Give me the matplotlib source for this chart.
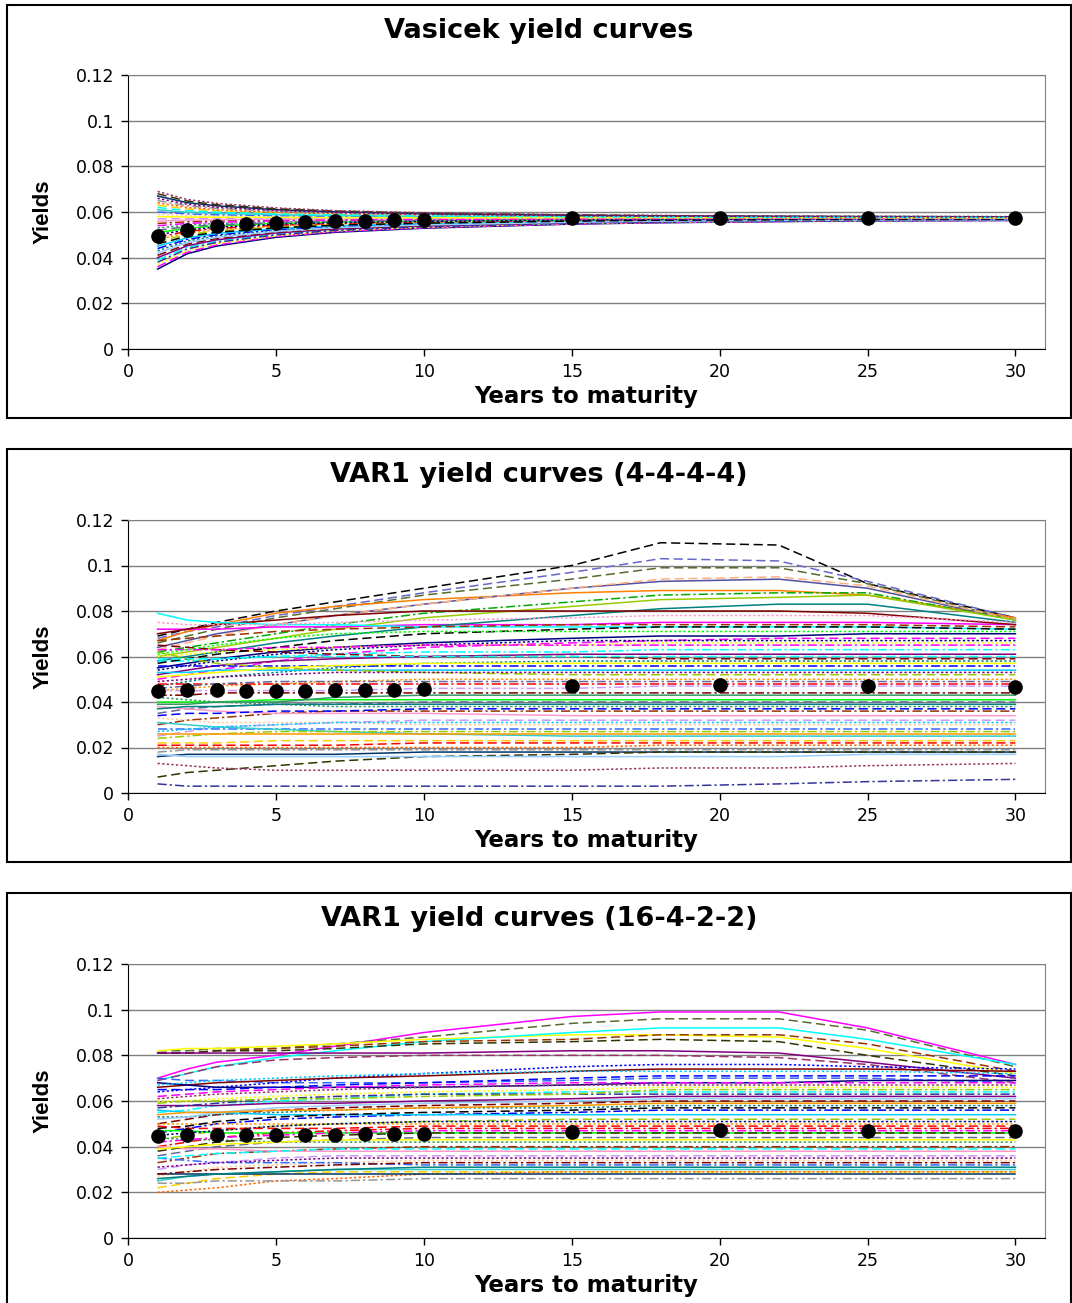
import matplotlib
matplotlib.use("Agg")
import matplotlib.pyplot as plt
from matplotlib.patches import Rectangle
from itertools import cycle

mats = [1, 2, 3, 5, 7, 10, 15, 18, 22, 25, 30]
dot_mats = [1, 2, 3, 4, 5, 6, 7, 8, 9, 10, 15, 20, 25, 30]

titles = ["Vasicek yield curves", "VAR1 yield curves (4-4-4-4)", "VAR1 yield curves (16-4-2-2)"]
yticks = [0, 0.02, 0.04, 0.06, 0.08, 0.1, 0.12]
ytick_labels = ["0", "0.02", "0.04", "0.06", "0.08", "0.1", "0.12"]
xticks = [0, 5, 10, 15, 20, 25, 30]

#---------------------------------------------------------------------------------------
# Vasicek curves
vasicek_curves = [
    [0.035, 0.0417, 0.0451, 0.0489, 0.0511, 0.0529, 0.0547, 0.0553, 0.0558, 0.0561, 0.0563],
    [0.036, 0.0424, 0.0456, 0.0493, 0.0514, 0.0531, 0.0548, 0.0554, 0.0559, 0.0561, 0.0563],
    [0.037, 0.0431, 0.0462, 0.0496, 0.0517, 0.0533, 0.0550, 0.0555, 0.0560, 0.0562, 0.0564],
    [0.039, 0.0445, 0.0473, 0.0504, 0.0522, 0.0537, 0.0552, 0.0557, 0.0561, 0.0563, 0.0565],
    [0.040, 0.0452, 0.0478, 0.0508, 0.0525, 0.0539, 0.0553, 0.0558, 0.0562, 0.0564, 0.0565],
    [0.041, 0.0459, 0.0484, 0.0512, 0.0528, 0.0541, 0.0554, 0.0559, 0.0563, 0.0564, 0.0566],
    [0.043, 0.0473, 0.0495, 0.0519, 0.0534, 0.0545, 0.0557, 0.0561, 0.0564, 0.0565, 0.0567],
    [0.044, 0.0480, 0.0500, 0.0523, 0.0536, 0.0547, 0.0558, 0.0562, 0.0565, 0.0566, 0.0567],
    [0.045, 0.0487, 0.0506, 0.0527, 0.0539, 0.0549, 0.0559, 0.0563, 0.0566, 0.0567, 0.0568],
    [0.047, 0.0501, 0.0517, 0.0534, 0.0545, 0.0553, 0.0562, 0.0565, 0.0567, 0.0568, 0.0569],
    [0.048, 0.0508, 0.0522, 0.0538, 0.0548, 0.0555, 0.0563, 0.0565, 0.0567, 0.0568, 0.0569],
    [0.049, 0.0515, 0.0528, 0.0542, 0.0550, 0.0557, 0.0564, 0.0566, 0.0568, 0.0569, 0.0570],
    [0.051, 0.0529, 0.0539, 0.0550, 0.0556, 0.0561, 0.0566, 0.0568, 0.0570, 0.0570, 0.0571],
    [0.052, 0.0536, 0.0544, 0.0553, 0.0559, 0.0563, 0.0568, 0.0569, 0.0570, 0.0571, 0.0571],
    [0.053, 0.0543, 0.0550, 0.0557, 0.0562, 0.0565, 0.0569, 0.0570, 0.0571, 0.0571, 0.0572],
    [0.055, 0.0557, 0.0561, 0.0565, 0.0567, 0.0569, 0.0571, 0.0572, 0.0572, 0.0573, 0.0573],
    [0.056, 0.0564, 0.0566, 0.0569, 0.0570, 0.0571, 0.0572, 0.0573, 0.0573, 0.0573, 0.0573],
    [0.057, 0.0571, 0.0572, 0.0572, 0.0573, 0.0573, 0.0574, 0.0574, 0.0574, 0.0574, 0.0574],
    [0.059, 0.0585, 0.0583, 0.0580, 0.0578, 0.0577, 0.0576, 0.0575, 0.0575, 0.0575, 0.0575],
    [0.060, 0.0592, 0.0588, 0.0584, 0.0581, 0.0579, 0.0577, 0.0576, 0.0576, 0.0576, 0.0575],
    [0.061, 0.0599, 0.0594, 0.0588, 0.0584, 0.0581, 0.0578, 0.0577, 0.0576, 0.0576, 0.0576],
    [0.063, 0.0613, 0.0605, 0.0595, 0.0590, 0.0585, 0.0581, 0.0579, 0.0578, 0.0577, 0.0577],
    [0.064, 0.0620, 0.0610, 0.0599, 0.0592, 0.0587, 0.0582, 0.0580, 0.0578, 0.0578, 0.0577],
    [0.065, 0.0627, 0.0616, 0.0603, 0.0595, 0.0589, 0.0583, 0.0581, 0.0579, 0.0579, 0.0578],
    [0.067, 0.0641, 0.0627, 0.0610, 0.0601, 0.0593, 0.0586, 0.0583, 0.0581, 0.0580, 0.0579],
    [0.068, 0.0648, 0.0632, 0.0614, 0.0604, 0.0595, 0.0587, 0.0584, 0.0581, 0.0580, 0.0579],
    [0.069, 0.0655, 0.0638, 0.0618, 0.0606, 0.0597, 0.0588, 0.0585, 0.0582, 0.0581, 0.0580],
    [0.038, 0.0438, 0.0467, 0.0500, 0.0519, 0.0535, 0.0551, 0.0556, 0.0560, 0.0562, 0.0564],
    [0.042, 0.0466, 0.0489, 0.0515, 0.0531, 0.0543, 0.0555, 0.0560, 0.0563, 0.0565, 0.0566],
    [0.046, 0.0494, 0.0511, 0.0530, 0.0542, 0.0551, 0.0560, 0.0564, 0.0566, 0.0567, 0.0568],
    [0.050, 0.0522, 0.0533, 0.0546, 0.0553, 0.0559, 0.0565, 0.0567, 0.0569, 0.0570, 0.0570],
    [0.054, 0.0550, 0.0555, 0.0561, 0.0564, 0.0567, 0.0570, 0.0571, 0.0572, 0.0572, 0.0572],
    [0.058, 0.0578, 0.0577, 0.0576, 0.0575, 0.0575, 0.0575, 0.0575, 0.0575, 0.0575, 0.0574],
    [0.062, 0.0606, 0.0599, 0.0591, 0.0587, 0.0583, 0.0579, 0.0578, 0.0577, 0.0577, 0.0576],
    [0.066, 0.0634, 0.0621, 0.0607, 0.0598, 0.0591, 0.0584, 0.0582, 0.0580, 0.0579, 0.0578],
]
vasicek_dots = [0.0496, 0.0522, 0.0539, 0.0548, 0.0552, 0.0556, 0.0559, 0.0561, 0.0563, 0.0565,
                0.0572, 0.0574, 0.0574, 0.0574]

# VAR1 (4-4-4-4) curves
var_a_curves = [
    [0.069, 0.072, 0.075, 0.080, 0.084, 0.090, 0.100, 0.110, 0.109, 0.092, 0.077],
    [0.068, 0.071, 0.073, 0.078, 0.082, 0.088, 0.097, 0.103, 0.102, 0.093, 0.077],
    [0.066, 0.069, 0.072, 0.077, 0.081, 0.087, 0.094, 0.099, 0.099, 0.092, 0.076],
    [0.067, 0.071, 0.074, 0.079, 0.082, 0.085, 0.088, 0.089, 0.089, 0.087, 0.077],
    [0.064, 0.067, 0.070, 0.074, 0.078, 0.083, 0.090, 0.093, 0.094, 0.090, 0.076],
    [0.062, 0.064, 0.066, 0.070, 0.074, 0.079, 0.084, 0.087, 0.088, 0.088, 0.076],
    [0.063, 0.066, 0.069, 0.074, 0.078, 0.083, 0.090, 0.094, 0.095, 0.091, 0.076],
    [0.060, 0.062, 0.064, 0.068, 0.072, 0.077, 0.082, 0.085, 0.086, 0.087, 0.076],
    [0.072, 0.072, 0.072, 0.073, 0.073, 0.074, 0.074, 0.075, 0.075, 0.075, 0.074],
    [0.058, 0.060, 0.062, 0.066, 0.069, 0.073, 0.078, 0.081, 0.083, 0.083, 0.075],
    [0.070, 0.072, 0.074, 0.076, 0.078, 0.080, 0.080, 0.080, 0.080, 0.079, 0.074],
    [0.079, 0.076, 0.075, 0.074, 0.074, 0.073, 0.073, 0.073, 0.073, 0.073, 0.072],
    [0.055, 0.057, 0.059, 0.062, 0.064, 0.066, 0.068, 0.069, 0.069, 0.070, 0.070],
    [0.050, 0.052, 0.054, 0.058, 0.061, 0.064, 0.066, 0.067, 0.068, 0.068, 0.068],
    [0.060, 0.061, 0.062, 0.063, 0.064, 0.065, 0.065, 0.066, 0.066, 0.066, 0.066],
    [0.058, 0.058, 0.059, 0.060, 0.061, 0.062, 0.062, 0.063, 0.063, 0.063, 0.063],
    [0.052, 0.054, 0.056, 0.058, 0.059, 0.060, 0.061, 0.061, 0.061, 0.061, 0.061],
    [0.065, 0.064, 0.063, 0.062, 0.061, 0.060, 0.060, 0.059, 0.059, 0.059, 0.059],
    [0.047, 0.049, 0.051, 0.053, 0.055, 0.057, 0.058, 0.058, 0.058, 0.058, 0.058],
    [0.056, 0.056, 0.056, 0.056, 0.056, 0.056, 0.056, 0.056, 0.056, 0.056, 0.056],
    [0.053, 0.053, 0.054, 0.054, 0.054, 0.054, 0.054, 0.054, 0.054, 0.054, 0.054],
    [0.062, 0.059, 0.057, 0.055, 0.054, 0.053, 0.052, 0.052, 0.052, 0.052, 0.052],
    [0.045, 0.046, 0.047, 0.048, 0.049, 0.050, 0.050, 0.050, 0.050, 0.050, 0.050],
    [0.048, 0.048, 0.048, 0.048, 0.048, 0.048, 0.048, 0.048, 0.048, 0.048, 0.048],
    [0.040, 0.040, 0.040, 0.041, 0.041, 0.041, 0.041, 0.041, 0.041, 0.041, 0.041],
    [0.035, 0.037, 0.038, 0.039, 0.039, 0.040, 0.040, 0.040, 0.040, 0.040, 0.040],
    [0.042, 0.041, 0.040, 0.039, 0.038, 0.038, 0.038, 0.038, 0.038, 0.038, 0.038],
    [0.030, 0.032, 0.033, 0.035, 0.036, 0.036, 0.036, 0.036, 0.036, 0.036, 0.036],
    [0.038, 0.037, 0.036, 0.035, 0.035, 0.035, 0.034, 0.034, 0.034, 0.034, 0.034],
    [0.025, 0.027, 0.029, 0.030, 0.031, 0.032, 0.032, 0.032, 0.032, 0.032, 0.032],
    [0.033, 0.032, 0.031, 0.031, 0.031, 0.030, 0.030, 0.030, 0.030, 0.030, 0.030],
    [0.028, 0.028, 0.028, 0.028, 0.028, 0.028, 0.028, 0.028, 0.028, 0.028, 0.028],
    [0.031, 0.030, 0.029, 0.028, 0.027, 0.026, 0.025, 0.025, 0.025, 0.025, 0.025],
    [0.022, 0.022, 0.022, 0.023, 0.023, 0.023, 0.023, 0.023, 0.023, 0.023, 0.023],
    [0.020, 0.020, 0.020, 0.020, 0.020, 0.020, 0.020, 0.021, 0.021, 0.021, 0.021],
    [0.018, 0.019, 0.019, 0.019, 0.019, 0.019, 0.019, 0.019, 0.019, 0.019, 0.019],
    [0.016, 0.017, 0.017, 0.017, 0.017, 0.018, 0.018, 0.018, 0.018, 0.018, 0.018],
    [0.007, 0.009, 0.010, 0.012, 0.014, 0.016, 0.017, 0.018, 0.018, 0.018, 0.018],
    [0.013, 0.012, 0.011, 0.010, 0.010, 0.010, 0.010, 0.011, 0.011, 0.012, 0.013],
    [0.004, 0.003, 0.003, 0.003, 0.003, 0.003, 0.003, 0.003, 0.004, 0.005, 0.006],
    [0.017, 0.016, 0.016, 0.016, 0.016, 0.016, 0.016, 0.016, 0.016, 0.017, 0.017],
    [0.057, 0.059, 0.061, 0.064, 0.067, 0.070, 0.072, 0.073, 0.073, 0.073, 0.072],
    [0.054, 0.056, 0.058, 0.061, 0.063, 0.065, 0.067, 0.067, 0.067, 0.067, 0.067],
    [0.063, 0.063, 0.063, 0.064, 0.064, 0.065, 0.065, 0.065, 0.065, 0.065, 0.065],
    [0.051, 0.052, 0.053, 0.055, 0.056, 0.057, 0.057, 0.057, 0.057, 0.057, 0.057],
    [0.059, 0.059, 0.059, 0.060, 0.060, 0.060, 0.060, 0.060, 0.060, 0.060, 0.060],
    [0.049, 0.050, 0.051, 0.052, 0.053, 0.053, 0.053, 0.053, 0.053, 0.053, 0.053],
    [0.043, 0.043, 0.044, 0.044, 0.044, 0.044, 0.044, 0.044, 0.044, 0.044, 0.044],
    [0.037, 0.038, 0.038, 0.039, 0.039, 0.039, 0.039, 0.039, 0.039, 0.039, 0.039],
    [0.034, 0.035, 0.035, 0.036, 0.036, 0.037, 0.037, 0.037, 0.037, 0.037, 0.037],
    [0.027, 0.028, 0.029, 0.030, 0.031, 0.031, 0.031, 0.031, 0.031, 0.031, 0.031],
    [0.024, 0.025, 0.026, 0.027, 0.027, 0.027, 0.027, 0.027, 0.027, 0.027, 0.027],
    [0.026, 0.026, 0.026, 0.026, 0.026, 0.026, 0.026, 0.026, 0.026, 0.026, 0.026],
    [0.021, 0.021, 0.021, 0.021, 0.021, 0.022, 0.022, 0.022, 0.022, 0.022, 0.022],
    [0.061, 0.063, 0.065, 0.068, 0.070, 0.071, 0.071, 0.071, 0.071, 0.071, 0.071],
    [0.046, 0.047, 0.048, 0.049, 0.049, 0.049, 0.049, 0.049, 0.049, 0.049, 0.049],
    [0.039, 0.039, 0.040, 0.040, 0.042, 0.043, 0.043, 0.043, 0.043, 0.043, 0.043],
    [0.067, 0.068, 0.069, 0.071, 0.072, 0.073, 0.074, 0.074, 0.074, 0.074, 0.073],
    [0.075, 0.074, 0.074, 0.074, 0.075, 0.076, 0.077, 0.078, 0.078, 0.078, 0.075],
    [0.045, 0.045, 0.045, 0.045, 0.045, 0.046, 0.046, 0.047, 0.047, 0.047, 0.047],
]
var_a_dots = [0.0448, 0.0452, 0.0452, 0.0450, 0.0450, 0.0450, 0.0452, 0.0454, 0.0454, 0.0456,
              0.0470, 0.0474, 0.0472, 0.0468]

# VAR1 (16-4-2-2) curves
var_b_curves = [
    [0.070, 0.074, 0.077, 0.080, 0.084, 0.090, 0.097, 0.099, 0.099, 0.092, 0.076],
    [0.082, 0.082, 0.083, 0.083, 0.085, 0.088, 0.094, 0.096, 0.096, 0.091, 0.075],
    [0.082, 0.083, 0.083, 0.084, 0.085, 0.087, 0.089, 0.089, 0.088, 0.083, 0.072],
    [0.069, 0.072, 0.075, 0.079, 0.082, 0.086, 0.090, 0.092, 0.092, 0.087, 0.076],
    [0.081, 0.081, 0.082, 0.083, 0.084, 0.086, 0.087, 0.089, 0.089, 0.085, 0.073],
    [0.081, 0.081, 0.082, 0.082, 0.083, 0.085, 0.086, 0.087, 0.086, 0.080, 0.071],
    [0.081, 0.081, 0.081, 0.081, 0.081, 0.081, 0.082, 0.082, 0.081, 0.077, 0.070],
    [0.069, 0.072, 0.075, 0.078, 0.079, 0.080, 0.080, 0.080, 0.079, 0.076, 0.068],
    [0.070, 0.069, 0.069, 0.068, 0.068, 0.068, 0.069, 0.070, 0.070, 0.070, 0.068],
    [0.064, 0.065, 0.066, 0.068, 0.070, 0.072, 0.075, 0.076, 0.076, 0.075, 0.074],
    [0.066, 0.067, 0.068, 0.069, 0.070, 0.071, 0.073, 0.074, 0.074, 0.074, 0.073],
    [0.068, 0.067, 0.066, 0.066, 0.066, 0.066, 0.067, 0.068, 0.068, 0.069, 0.069],
    [0.062, 0.063, 0.064, 0.065, 0.066, 0.067, 0.068, 0.068, 0.068, 0.068, 0.068],
    [0.060, 0.060, 0.061, 0.062, 0.063, 0.064, 0.065, 0.066, 0.066, 0.066, 0.066],
    [0.055, 0.056, 0.058, 0.060, 0.061, 0.063, 0.064, 0.064, 0.064, 0.064, 0.064],
    [0.058, 0.058, 0.058, 0.059, 0.059, 0.060, 0.061, 0.062, 0.062, 0.062, 0.062],
    [0.050, 0.052, 0.054, 0.056, 0.057, 0.058, 0.059, 0.060, 0.060, 0.060, 0.060],
    [0.053, 0.053, 0.054, 0.055, 0.056, 0.057, 0.057, 0.058, 0.058, 0.058, 0.058],
    [0.046, 0.048, 0.050, 0.052, 0.053, 0.054, 0.055, 0.056, 0.056, 0.056, 0.056],
    [0.056, 0.055, 0.055, 0.054, 0.054, 0.054, 0.054, 0.054, 0.054, 0.054, 0.054],
    [0.043, 0.045, 0.047, 0.049, 0.050, 0.051, 0.052, 0.052, 0.052, 0.052, 0.052],
    [0.050, 0.050, 0.050, 0.050, 0.050, 0.050, 0.050, 0.050, 0.050, 0.050, 0.050],
    [0.040, 0.042, 0.044, 0.046, 0.047, 0.048, 0.048, 0.048, 0.048, 0.048, 0.048],
    [0.047, 0.047, 0.046, 0.046, 0.046, 0.046, 0.046, 0.046, 0.046, 0.046, 0.046],
    [0.036, 0.038, 0.040, 0.042, 0.043, 0.044, 0.044, 0.044, 0.044, 0.044, 0.044],
    [0.044, 0.043, 0.043, 0.042, 0.042, 0.042, 0.042, 0.042, 0.042, 0.042, 0.042],
    [0.033, 0.035, 0.037, 0.038, 0.039, 0.040, 0.040, 0.040, 0.040, 0.040, 0.040],
    [0.040, 0.039, 0.039, 0.038, 0.038, 0.038, 0.038, 0.038, 0.038, 0.038, 0.038],
    [0.030, 0.032, 0.033, 0.035, 0.036, 0.036, 0.036, 0.036, 0.036, 0.036, 0.036],
    [0.027, 0.029, 0.031, 0.032, 0.033, 0.034, 0.034, 0.034, 0.034, 0.034, 0.034],
    [0.035, 0.034, 0.033, 0.033, 0.033, 0.032, 0.032, 0.032, 0.032, 0.032, 0.032],
    [0.025, 0.027, 0.028, 0.029, 0.030, 0.030, 0.030, 0.030, 0.030, 0.030, 0.030],
    [0.022, 0.024, 0.026, 0.028, 0.029, 0.029, 0.029, 0.029, 0.029, 0.029, 0.029],
    [0.020, 0.021, 0.022, 0.025, 0.026, 0.028, 0.029, 0.029, 0.029, 0.029, 0.029],
    [0.024, 0.024, 0.025, 0.025, 0.025, 0.026, 0.026, 0.026, 0.026, 0.026, 0.026],
    [0.028, 0.028, 0.028, 0.028, 0.028, 0.028, 0.028, 0.028, 0.028, 0.028, 0.028],
    [0.038, 0.040, 0.042, 0.044, 0.045, 0.046, 0.046, 0.046, 0.046, 0.046, 0.046],
    [0.061, 0.062, 0.063, 0.064, 0.065, 0.066, 0.067, 0.067, 0.067, 0.067, 0.067],
    [0.057, 0.058, 0.059, 0.061, 0.062, 0.063, 0.063, 0.063, 0.063, 0.063, 0.063],
    [0.052, 0.053, 0.055, 0.057, 0.058, 0.059, 0.060, 0.061, 0.061, 0.061, 0.061],
    [0.048, 0.049, 0.051, 0.053, 0.054, 0.055, 0.056, 0.057, 0.057, 0.057, 0.057],
    [0.045, 0.046, 0.047, 0.049, 0.050, 0.051, 0.051, 0.051, 0.051, 0.051, 0.051],
    [0.042, 0.043, 0.044, 0.045, 0.046, 0.047, 0.047, 0.047, 0.047, 0.047, 0.047],
    [0.039, 0.040, 0.041, 0.042, 0.043, 0.043, 0.043, 0.043, 0.043, 0.043, 0.043],
    [0.035, 0.036, 0.037, 0.038, 0.039, 0.039, 0.039, 0.039, 0.039, 0.039, 0.039],
    [0.031, 0.032, 0.033, 0.034, 0.035, 0.035, 0.035, 0.035, 0.035, 0.035, 0.035],
    [0.028, 0.029, 0.030, 0.031, 0.032, 0.033, 0.033, 0.033, 0.033, 0.033, 0.033],
    [0.026, 0.027, 0.028, 0.029, 0.030, 0.031, 0.031, 0.031, 0.031, 0.031, 0.031],
    [0.065, 0.065, 0.065, 0.066, 0.067, 0.068, 0.070, 0.071, 0.071, 0.071, 0.071],
    [0.067, 0.068, 0.069, 0.070, 0.071, 0.072, 0.073, 0.073, 0.073, 0.073, 0.072],
    [0.059, 0.060, 0.060, 0.061, 0.061, 0.062, 0.063, 0.065, 0.065, 0.065, 0.065],
    [0.054, 0.055, 0.055, 0.056, 0.056, 0.057, 0.058, 0.059, 0.059, 0.059, 0.059],
    [0.049, 0.048, 0.048, 0.048, 0.048, 0.049, 0.049, 0.049, 0.049, 0.049, 0.049],
]
var_b_dots = [0.0448, 0.0452, 0.0452, 0.0452, 0.0452, 0.0452, 0.0452, 0.0454, 0.0454, 0.0456,
              0.0466, 0.0474, 0.0470, 0.0468]

# excel style line palette
palette = ["#000080", "#FF00FF", "#FFFF00", "#00FFFF", "#800080", "#800000", "#008080",
           "#0000FF", "#00CCFF", "#99CC00", "#FF9900", "#FF0000", "#00FF00", "#666699",
           "#339966", "#993300", "#FF99CC", "#CC99FF", "#FFCC99", "#3366FF", "#33CCCC",
           "#FFCC00", "#FF6600", "#969696", "#003366", "#333300", "#993366", "#333399",
           "#99CCFF", "#000000"]
dash = (0, (6, 3))
dot = (0, (1.5, 1.5))
dashdot = (0, (6, 2, 1.5, 2))
styles = ["-", dash, dot, dashdot]

# the few curves standing out at the top of the VAR1 panels
lead_a = [("black", dash), ("#6666CC", dash), ("#556B2F", dash), ("#FF8000", "-"),
          ("#5050A0", "-"), ("#00AA00", dashdot), ("#FFB080", dash), ("#99CC00", "-"),
          ("#FF00FF", "-"), ("#008080", "-"), ("#800000", "-"), ("#00FFFF", "-")]
lead_b = [("#FF00FF", "-"), ("#556B2F", dash), ("#FFFF00", "-"), ("#00FFFF", "-"),
          ("#993300", dash), ("#333300", dash), ("#800080", "-"), ("#993366", dash),
          ("#3366FF", dash), ("#0000FF", dot), ("#800000", "-")]
leads = [[], lead_a, lead_b]

#---------------------------------------------------------------------------------------
W, H = 1072, 1303
fig = plt.figure(figsize=(W / 100, H / 100), dpi=100)

panels = [(vasicek_curves, vasicek_dots), (var_a_curves, var_a_dots), (var_b_curves, var_b_dots)]
box_top = [5, 449, 893]      # pixel rows of panel frames
box_bottom = [418, 862, 1320]
ax_top = [75, 520, 964]
ax_bottom = [349, 793, 1238]

for i, (curves, dots) in enumerate(panels):
    # chart area frame
    fig.patches.append(Rectangle((7 / W, 1 - box_bottom[i] / H), 1064 / W,
                                 (box_bottom[i] - box_top[i]) / H, transform=fig.transFigure,
                                 fill=False, edgecolor="black", linewidth=1.5))
    ax = fig.add_axes([128 / W, 1 - ax_bottom[i] / H, (1045 - 128) / W,
                       (ax_bottom[i] - ax_top[i]) / H])
    col = cycle(palette)
    sty = cycle(styles)
    for k, c in enumerate(curves):
        if k < len(leads[i]):
            color, ls = leads[i][k]
        else:
            color, ls = next(col), next(sty)
        ax.plot(mats, c, color=color, linestyle=ls, linewidth=1.1)
    ax.plot(dot_mats, dots, "o", color="black", markersize=9.5, zorder=5)

    ax.set_xlim(0, 31)
    ax.set_ylim(0, 0.12)
    ax.set_yticks(yticks)
    ax.set_yticklabels(ytick_labels)
    ax.set_xticks(xticks)
    ax.grid(True, axis="y", color="#808080", linewidth=1.0)
    ax.set_axisbelow(True)
    for s in ["top", "right"]:
        ax.spines[s].set_color("#808080")
    for s in ["left", "bottom"]:
        ax.spines[s].set_color("black")
    ax.tick_params(direction="out", length=5, width=1, labelsize=12.5, pad=5)
    for lab in ax.get_xticklabels() + ax.get_yticklabels():
        lab.set_family("DejaVu Sans")

    ax.set_xlabel("Years to maturity", fontsize=16.5, fontweight="bold",
                  family="DejaVu Sans", labelpad=3)
    ax.set_ylabel("Yields", fontsize=16, fontweight="bold",
                  family=["Liberation Sans Narrow", "Liberation Sans"], labelpad=16)
    fig.text(0.5 * (7 + 1071) / W, 1 - (box_top[i] + 26) / H, titles[i], ha="center",
             va="center", fontsize=19.5, fontweight="bold", family="DejaVu Sans")

fig.savefig("out.png", dpi=100)
